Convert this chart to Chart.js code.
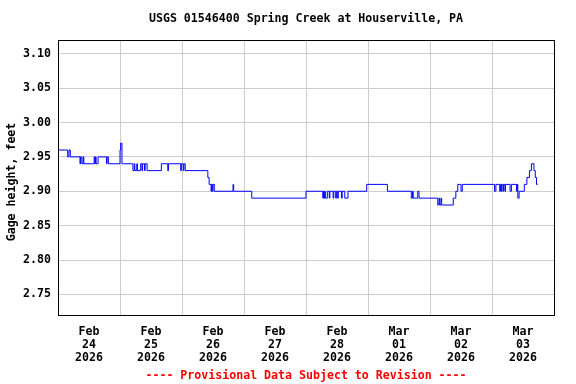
<!DOCTYPE html>
<html>
<head>
<meta charset="utf-8">
<script src="https://cdn.jsdelivr.net/npm/chart.js@4/dist/chart.umd.min.js"></script>
<style>
  html, body { margin: 0; padding: 0; background: #fff; }
  canvas { display: block; }
</style>
</head>
<body>
<canvas id="gage" width="576" height="384"></canvas>
<script>
// Station + labels
const title = 'USGS 01546400 Spring Creek at Houserville, PA';
const yTitle = 'Gage height, feet';
const footer = '---- Provisional Data Subject to Revision ----';

// x tick labels, one per day (drawn at noon)
const months = ['Feb', 'Feb', 'Feb', 'Feb', 'Feb', 'Mar', 'Mar', 'Mar'];
const days = ['24', '25', '26', '27', '28', '01', '02', '03'];
const years = ['2026', '2026', '2026', '2026', '2026', '2026', '2026', '2026'];

// y tick values
const yTicks = [2.75, 2.80, 2.85, 2.90, 2.95, 3.00, 3.05, 3.10];

// gage readings: hours since Feb 24 00:00 and gage height (ft), value holds until next change
const hours = [
  0, 3.75, 4.25, 4.75, 8.5, 8.75, 9.25, 9.75, 10, 14, 14.25, 14.5, 14.75, 15.5, 18.75, 19, 19.5,
  24, 24.25, 24.75, 29, 29.5, 29.75, 30.5, 30.75, 32, 32.5, 32.75, 33.5, 33.75, 34.5, 40, 42.5, 42.75, 47.5, 47.75,
  48.5, 48.75, 49.25, 58, 58.5, 59.25, 59.5, 59.75, 60, 60.5, 67.75, 68,
  75, 96,
  102.5, 102.75, 103, 103.25, 103.5, 104.25, 105, 105.25, 106.5, 106.75, 107.5, 107.75, 108.25, 108.5, 109.75, 110, 111, 112.25, 119.5,
  127.5, 136.75, 137.25, 137.5, 139.25, 139.75,
  147, 147.5, 147.75, 148.25, 148.5, 153, 154, 154.75, 156, 156.5, 169, 169.5,
  171, 171.25, 171.5, 171.75, 172.25, 172.5, 173, 173.25, 175, 175.5, 177.5, 177.75, 178, 178.5,
  180.5, 181.5, 182.5, 183.25, 184.25, 184.75, 185.25, 185.75
];
const gage = [
  2.96, 2.95, 2.96, 2.95, 2.94, 2.95, 2.94, 2.95, 2.94, 2.95, 2.94, 2.95, 2.94, 2.95, 2.94, 2.95, 2.94,
  2.96, 2.97, 2.94, 2.93, 2.94, 2.93, 2.94, 2.93, 2.94, 2.93, 2.94, 2.93, 2.94, 2.93, 2.94, 2.93, 2.94, 2.93, 2.94,
  2.93, 2.94, 2.93, 2.92, 2.91, 2.90, 2.91, 2.90, 2.91, 2.90, 2.91, 2.90,
  2.89, 2.90,
  2.89, 2.90, 2.89, 2.90, 2.89, 2.90, 2.89, 2.90, 2.89, 2.90, 2.89, 2.90, 2.89, 2.90, 2.89, 2.90, 2.89, 2.90, 2.91,
  2.90, 2.89, 2.90, 2.89, 2.90, 2.89,
  2.88, 2.89, 2.88, 2.89, 2.88, 2.89, 2.90, 2.91, 2.90, 2.91, 2.90, 2.91,
  2.90, 2.91, 2.90, 2.91, 2.90, 2.91, 2.90, 2.91, 2.90, 2.91, 2.90, 2.91, 2.89, 2.90,
  2.91, 2.92, 2.93, 2.94, 2.93, 2.92, 2.91, 2.91
];

const FONT = '"DejaVu Sans Mono", "Liberation Mono", monospace';

// box around the plot + title, y title, footer
const frame = {
  id: 'frame',
  afterDraw(chart) {
    const { ctx, chartArea: a } = chart;
    ctx.save();
    ctx.strokeStyle = '#000';
    ctx.lineWidth = 1;
    ctx.strokeRect(a.left + 0.5, a.top + 0.5, a.right - a.left, a.bottom - a.top);

    ctx.fillStyle = '#000';
    ctx.textAlign = 'center';
    ctx.textBaseline = 'middle';
    ctx.font = 'bold 11.6px ' + FONT;
    ctx.fillText(title, (a.left + a.right) / 2, 19);

    ctx.fillStyle = '#ff0000';
    ctx.fillText(footer, (a.left + a.right) / 2, 376);

    ctx.fillStyle = '#000';
    ctx.translate(12, 182);
    ctx.rotate(-Math.PI / 2);
    ctx.fillText(yTitle, 0, 0);
    ctx.restore();
  }
};

new Chart(document.getElementById('gage'), {
  type: 'line',
  data: {
    datasets: [{
      data: hours.map((h, i) => ({ x: h, y: gage[i] })),
      borderColor: '#0000ff',
      borderWidth: 1,
      pointRadius: 0,
      stepped: true,
      fill: false
    }]
  },
  options: {
    responsive: false,
    animation: false,
    devicePixelRatio: 1,
    layout: { padding: { top: 40, right: 22, bottom: 0, left: 0 } },
    plugins: {
      legend: { display: false },
      tooltip: { enabled: false }
    },
    scales: {
      x: {
        type: 'linear',
        min: 0,
        max: 192,
        afterFit(s) { s.height = 69; },
        afterBuildTicks(s) {
          const t = [];
          for (let v = 0; v <= 192; v += 12) t.push({ value: v });
          s.ticks = t;
        },
        border: { display: false },
        grid: {
          drawTicks: false,
          lineWidth: 1,
          color: c => {
            const v = c.tick ? c.tick.value : 0;
            return (v % 24 === 0 && v > 0 && v < 192) ? '#cccccc' : 'rgba(0,0,0,0)';
          }
        },
        ticks: {
          autoSkip: false,
          maxRotation: 0,
          padding: 11,
          color: '#000',
          font: { family: FONT, size: 11.6, weight: 'bold', lineHeight: 1.1 },
          callback: v => {
            if (v % 24 !== 12) return '';
            const d = (v - 12) / 24;
            return [months[d], days[d], years[d]];
          }
        }
      },
      y: {
        min: 2.72,
        max: 3.12,
        afterFit(s) { s.width = 58; },
        afterBuildTicks(s) { s.ticks = yTicks.map(v => ({ value: v })); },
        border: { display: false },
        grid: { drawTicks: false, color: '#cccccc', lineWidth: 1 },
        ticks: {
          padding: 7,
          color: '#000',
          font: { family: FONT, size: 11.6, weight: 'bold' },
          callback: v => v.toFixed(2)
        }
      }
    }
  },
  plugins: [frame]
});
</script>
</body>
</html>
